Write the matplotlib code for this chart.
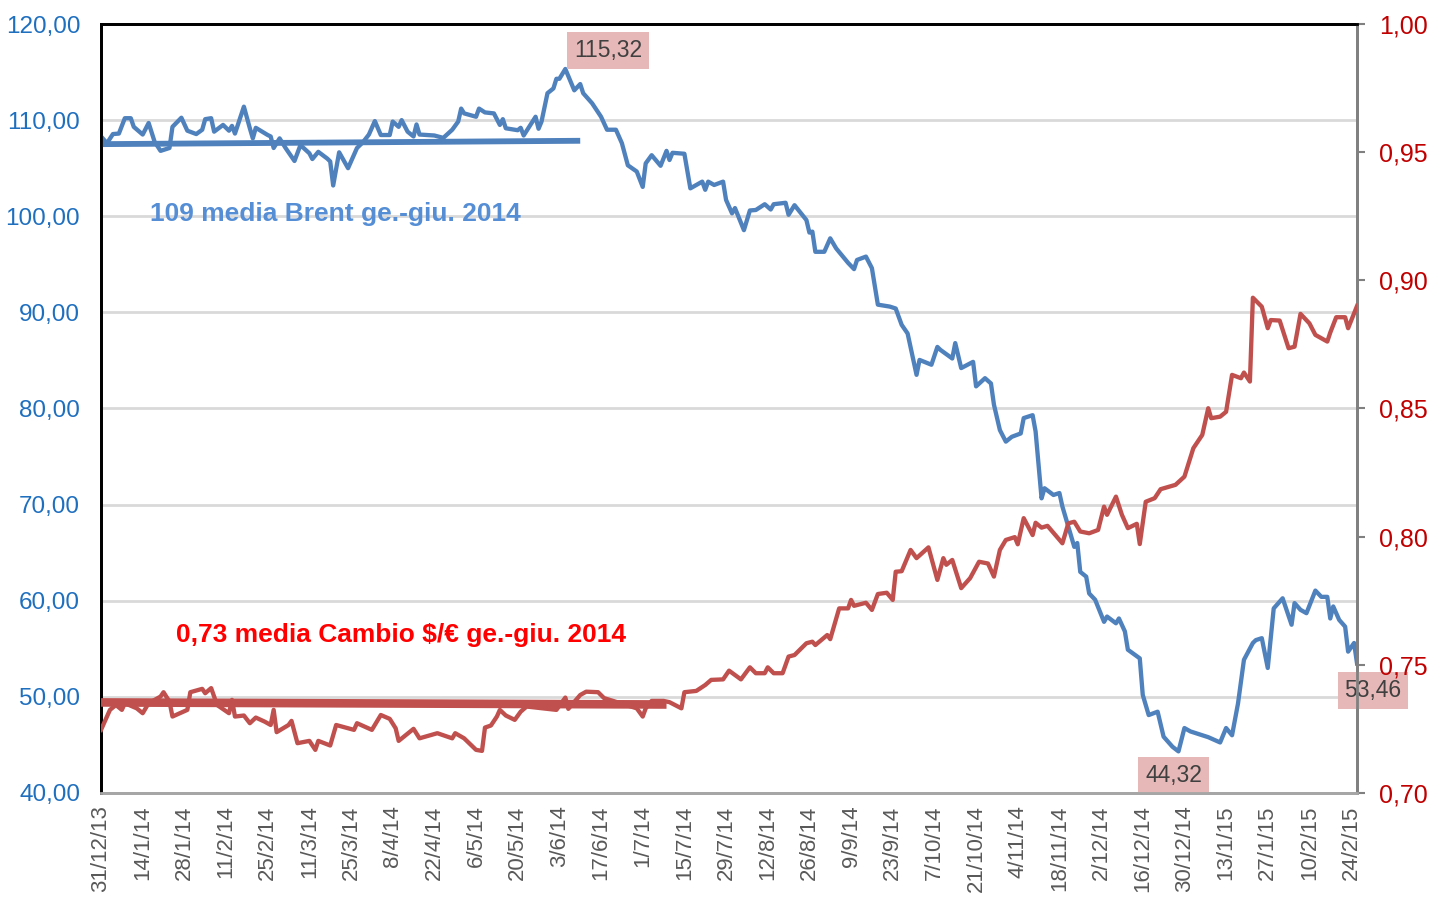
import matplotlib
matplotlib.use("Agg")
import matplotlib.pyplot as plt
import matplotlib.font_manager as fm
import pandas as pd
from matplotlib.ticker import FixedLocator, FuncFormatter

# ---- data (days counted from 31/12/2013) ----
brent_day = [0, 2, 4, 6, 8, 10, 11, 14, 16, 18, 20, 23, 24, 27, 29, 32, 34, 35, 37, 38,
             41, 43, 44, 45, 48, 50, 51, 52, 56, 57, 58, 60, 62, 65, 67, 70, 71, 73, 76, 77,
             78, 80, 83, 86, 88, 90, 92, 94, 97, 98, 100, 101, 103, 105, 106, 107, 112, 115, 118, 120,
             121, 122, 126, 127, 129, 132, 134, 135, 136, 140, 141, 142, 146, 147, 148, 150, 152, 153, 154, 156,
             159, 161, 162, 165, 168, 170, 173, 175, 177, 180, 182, 183, 185, 188, 190, 191, 192, 196, 198, 202,
             203, 204, 206, 209, 210, 212, 213, 216, 218, 220, 223, 225, 226, 230, 231, 233, 237, 238, 239, 240,
             243, 245, 247, 251, 253, 254, 257, 259, 261, 265, 267, 269, 271, 274, 275, 279, 281, 282, 286, 287,
             289, 293, 294, 297, 299, 300, 302, 304, 306, 309, 310, 313, 314, 316, 317, 320, 322, 323, 325, 327,
             328, 329, 331, 332, 334, 337, 338, 341, 342, 344, 345, 349, 350, 352, 355, 357, 360, 362, 364, 366,
             372, 376, 378, 380, 382, 384, 387, 388, 390, 392, 394, 397, 400, 401, 403, 405, 408, 410, 412, 413,
             414, 416, 418, 419, 421, 422]
brent_val = [108.3, 107.6, 108.55, 108.6, 110.2, 110.2, 109.3, 108.5, 109.7, 107.75, 106.8, 107.1, 109.3, 110.25, 108.9, 108.55, 109.0, 110.1, 110.2, 108.8,
             109.5, 108.9, 109.4, 108.6, 111.4, 109.15, 108.1, 109.2, 108.45, 108.3, 107.1, 108.1, 107.1, 105.75, 107.4, 106.55, 105.95, 106.7, 106.0, 105.7,
             103.2, 106.65, 105.0, 107.1, 107.7, 108.5, 109.9, 108.45, 108.45, 109.85, 109.3, 110.0, 108.8, 108.3, 109.55, 108.5, 108.4, 108.15, 109.0, 109.85,
             111.2, 110.7, 110.35, 111.2, 110.8, 110.7, 109.5, 110.1, 109.15, 108.95, 109.2, 108.4, 110.35, 109.1, 109.85, 112.8, 113.3, 114.3, 114.3, 115.32,
             113.1, 113.75, 112.8, 111.75, 110.35, 109.0, 109.0, 107.6, 105.3, 104.65, 103.05, 105.5, 106.35, 105.25, 106.8, 105.85, 106.6, 106.5, 102.9, 103.6,
             102.75, 103.6, 103.25, 103.6, 101.7, 100.3, 100.85, 98.55, 100.6, 100.65, 101.25, 100.7, 101.25, 101.4, 100.15, 101.15, 99.6, 98.3, 98.4, 96.3,
             96.3, 97.7, 96.65, 95.15, 94.5, 95.45, 95.8, 94.6, 90.8, 90.6, 90.4, 88.7, 87.8, 83.5, 85.05, 84.55, 86.4, 86.1, 85.2, 86.8,
             84.2, 84.85, 82.3, 83.15, 82.6, 80.4, 77.75, 76.55, 77.05, 77.4, 79.0, 79.3, 77.6, 70.65, 71.7, 71.0, 71.2, 69.8, 67.7, 65.6,
             66.0, 63.0, 62.5, 60.75, 60.1, 57.8, 58.35, 57.65, 58.15, 56.8, 54.9, 54.0, 50.2, 48.1, 48.45, 45.85, 44.8, 44.32, 46.75, 46.4,
             45.8, 45.25, 46.75, 46.0, 49.3, 53.85, 55.6, 55.9, 56.1, 53.0, 59.2, 60.25, 57.5, 59.75, 59.05, 58.7, 61.05, 60.4, 60.4, 58.15,
             59.4, 58.0, 57.3, 54.7, 55.6, 53.46]

fx_day = [0, 3, 5, 7, 8, 12, 14, 16, 20, 21, 23, 24, 29, 30, 34, 35, 37, 39, 43, 44,
          45, 48, 50, 52, 55, 57, 58, 59, 63, 64, 66, 70, 72, 73, 77, 79, 85, 86, 91, 94,
          97, 99, 100, 105, 107, 113, 118, 119, 122, 126, 128, 129, 131, 133, 134, 136, 139, 141, 143, 153,
          156, 157, 161, 163, 167, 169, 180, 182, 183, 185, 189, 191, 195, 196, 200, 203, 205, 209, 211, 215,
          218, 220, 223, 224, 226, 229, 231, 233, 237, 239, 240, 244, 245, 248, 251, 252, 253, 257, 259, 261,
          264, 266, 267, 269, 272, 274, 278, 281, 283, 284, 286, 289, 292, 295, 298, 300, 302, 304, 307, 308,
          310, 313, 314, 316, 318, 323, 325, 327, 329, 332, 335, 337, 338, 341, 343, 345, 348, 349, 351, 354,
          356, 361, 364, 367, 370, 372, 373, 376, 378, 380, 383, 384, 386, 387, 390, 392, 393, 396, 399, 401,
          403, 406, 408, 412, 413, 415, 418, 419, 422]
fx_val = [0.7246, 0.7324, 0.7343, 0.7324, 0.735, 0.733, 0.7311, 0.735, 0.7376, 0.7393, 0.7356, 0.7298, 0.7324, 0.7393, 0.7406, 0.7389, 0.7409, 0.7343, 0.7311, 0.7363,
          0.7298, 0.7302, 0.7272, 0.7294, 0.7278, 0.7265, 0.7324, 0.7237, 0.7265, 0.7281, 0.7194, 0.7203, 0.7168, 0.7203, 0.7185, 0.7265, 0.7246, 0.7272, 0.7246, 0.7304,
          0.7289, 0.7252, 0.7203, 0.725, 0.7213, 0.7233, 0.7213, 0.7233, 0.7213, 0.7168, 0.7164, 0.7255, 0.7263, 0.7298, 0.7324, 0.7302, 0.7285, 0.7317, 0.7337, 0.7324,
          0.7372, 0.7328, 0.7382, 0.7395, 0.7393, 0.737, 0.733, 0.7298, 0.733, 0.7359, 0.7359, 0.7354, 0.733, 0.7393, 0.7398, 0.7421, 0.7441, 0.7443, 0.7477, 0.7443,
          0.749, 0.7467, 0.7467, 0.749, 0.7467, 0.7467, 0.7532, 0.7538, 0.7584, 0.759, 0.7577, 0.7616, 0.76, 0.772, 0.772, 0.7753, 0.773, 0.7742, 0.7714, 0.7776,
          0.7781, 0.7753, 0.7863, 0.7865, 0.7948, 0.7916, 0.7958, 0.7831, 0.7916, 0.789, 0.7909, 0.7799, 0.7838, 0.7902, 0.7895, 0.7844, 0.7948, 0.7987, 0.7998, 0.797,
          0.8072, 0.8006, 0.8054, 0.8035, 0.8042, 0.7974, 0.8052, 0.8058, 0.802, 0.8013, 0.8026, 0.8117, 0.8085, 0.8156, 0.8085, 0.8033, 0.805, 0.7971, 0.8136, 0.815,
          0.8185, 0.8202, 0.8234, 0.8345, 0.8397, 0.8501, 0.8462, 0.8468, 0.8487, 0.8631, 0.8618, 0.864, 0.8605, 0.8932, 0.8897, 0.8813, 0.8845, 0.8843, 0.8735, 0.8741,
          0.8869, 0.8832, 0.8787, 0.8761, 0.8796, 0.8856, 0.8856, 0.8813, 0.89]

# averages Jan-Jun 2014 as drawn (start/end day, value)
brent_avg_day = [0, 161]
brent_avg_val = [107.5, 107.85]
fx_avg_day = [0, 190]
fx_avg_val = [0.7353, 0.7345]

start = pd.Timestamp("2013-12-31")
end = pd.Timestamp("2015-02-26")
tick_dates = pd.date_range("2013-12-31", "2015-02-24", freq="14D")


def to_dates(days):
    return start + pd.to_timedelta(days, unit="D")


def comma2(v, _pos=None):
    return f"{v:.2f}".replace(".", ",")


# condensed face if one is installed, otherwise Liberation Sans
installed = {e.name for e in fm.fontManager.ttflist}
narrow = [f for f in ["Liberation Sans Narrow", "Liberation Sans"] if f in installed]
plt.rcParams["font.family"] = narrow + ["DejaVu Sans"]

BLUE = "#4F81BD"
RED = "#C0504D"

fig = plt.figure(figsize=(14.33, 8.99), dpi=100)
ax = fig.add_axes([0.0705, 0.118, 0.8765, 0.8553])
ax2 = ax.twinx()

ax.plot(to_dates(brent_day), brent_val, color=BLUE, lw=3.1, solid_joinstyle="round", zorder=3)
ax.plot(to_dates(brent_avg_day), brent_avg_val, color=BLUE, lw=4.2, solid_capstyle="butt", zorder=3)
ax2.plot(to_dates(fx_day), fx_val, color=RED, lw=3.1, solid_joinstyle="round", zorder=3)
ax2.plot(to_dates(fx_avg_day), fx_avg_val, color=RED, lw=6.2, solid_capstyle="butt", zorder=3)

ax.set_xlim(start, end)
ax.set_ylim(40, 120)
ax2.set_ylim(0.70, 1.00)

ax.yaxis.set_major_locator(FixedLocator(range(40, 121, 10)))
ax.yaxis.set_major_formatter(FuncFormatter(comma2))
ax2.yaxis.set_major_locator(FixedLocator([0.70, 0.75, 0.80, 0.85, 0.90, 0.95, 1.00]))
ax2.yaxis.set_major_formatter(FuncFormatter(comma2))

ax.set_xticks(tick_dates)
ax.set_xticklabels([f"{d.day}/{d.month}/{d.strftime('%y')}" for d in tick_dates],
                   rotation=90, fontsize=16, color="#595959",
                   family=["Liberation Sans", "DejaVu Sans"])

ax.tick_params(axis="y", length=0, labelsize=17.5, labelcolor="#1F6FBF", pad=15)
ax.tick_params(axis="x", length=0, pad=9)
ax2.tick_params(axis="y", length=6, width=1.5, color="#808080", labelsize=18,
                labelcolor="#C00000", pad=10)

ax.grid(axis="y", color="#D9D9D9", lw=2)
ax.set_axisbelow(True)

for a in (ax, ax2):
    a.spines["top"].set_color("black")
    a.spines["top"].set_linewidth(2)
    a.spines["left"].set_color("black")
    a.spines["left"].set_linewidth(2)
    a.spines["bottom"].set_color("#A6A6A6")
    a.spines["bottom"].set_linewidth(2)
    a.spines["right"].set_color("#808080")
    a.spines["right"].set_linewidth(2)

ax.text(0.039, 0.753, "109 media Brent ge.-giu. 2014", transform=ax.transAxes,
        color="#558ED5", fontsize=19, fontweight="bold", va="center", ha="left")
ax.text(0.0597, 0.2055, "0,73 media Cambio $/€ ge.-giu. 2014", transform=ax.transAxes,
        color="#FF0000", fontsize=19, fontweight="bold", va="center", ha="left")

box = dict(boxstyle="square,pad=0.3", fc="#E6B9B8", ec="none")
for day, val, off in [(156, 115.32, (31, 13.5)), (362, 44.32, (-3.6, -17)), (422, 53.46, (11.5, -19.4))]:
    ax.annotate(comma2(val), xy=(to_dates([day])[0], val), xytext=off, textcoords="offset points",
                ha="center", va="center", fontsize=16.5, color="#404040", bbox=box,
                annotation_clip=False, zorder=6)

fig.savefig("out.png", dpi=100)
